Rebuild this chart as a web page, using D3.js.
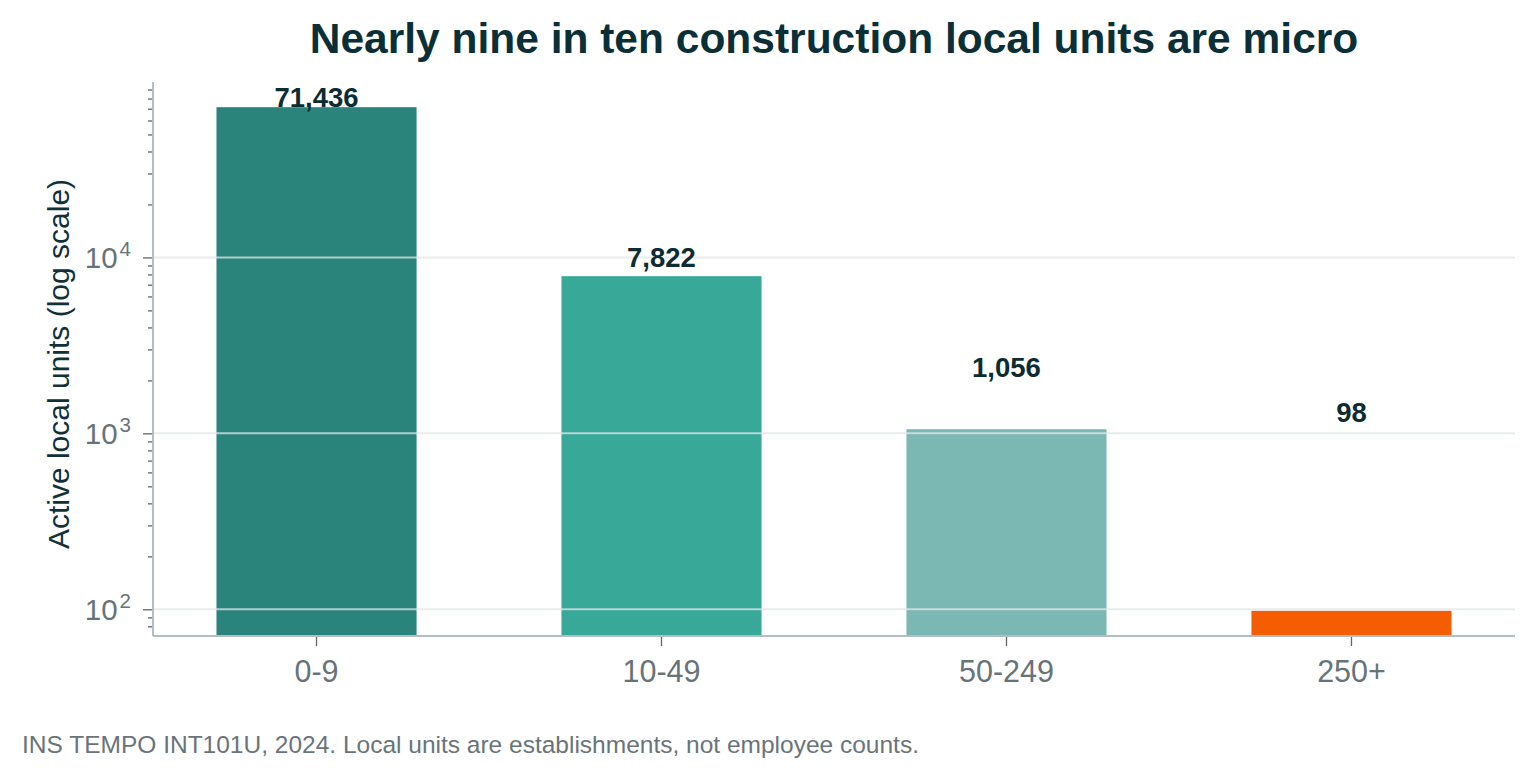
<!DOCTYPE html>
<html><head><meta charset="utf-8">
<script src="https://cdn.jsdelivr.net/npm/d3@7"></script>
<style>
html,body{margin:0;padding:0;background:#fff;}
svg{display:block;font-family:"Liberation Sans",Arial,sans-serif;}
</style></head>
<body>
<svg id="chart" width="1535" height="780"></svg>
<script>
const categories = ["0-9", "10-49", "50-249", "250+"];
const values = [71436, 7822, 1056, 98];
const barColors = ["#2a847b", "#38a899", "#7bb8b3", "#f45d01"];
const majorTicks = [100, 1000, 10000];
const titleText = "Nearly nine in ten construction local units are micro";
const yLabelText = "Active local units (log scale)";
const footerText = "INS TEMPO INT101U, 2024. Local units are establishments, not employee counts.";

const svg = d3.select("#chart");
const L = 153, R = 1515, T = 82, B = 636;

// log domain with 5% margins in log space (like matplotlib autoscale)
const lmin = Math.log10(d3.min(values)), lmax = Math.log10(d3.max(values));
const pad = (lmax - lmin) * 0.05;
const y = d3.scaleLog().domain([10 ** (lmin - pad), 10 ** (lmax + pad)]).range([B, T]);
const x = d3.scaleBand().domain(categories).range([L, R]).paddingInner(0.42).paddingOuter(0.184);

// bars
svg.append("g").selectAll("rect").data(values).join("rect")
  .attr("x", (d, i) => x(categories[i]))
  .attr("width", x.bandwidth())
  .attr("y", d => y(d))
  .attr("height", d => B - y(d))
  .attr("fill", (d, i) => barColors[i]);

// grid (drawn above bars)
svg.append("g").selectAll("line").data(majorTicks).join("line")
  .attr("x1", L).attr("x2", R)
  .attr("y1", d => y(d)).attr("y2", d => y(d))
  .attr("stroke", "#dfe5e8").attr("stroke-opacity", 0.75).attr("stroke-width", 2);

// y axis
const yAxis = d3.axisLeft(y).tickValues(y.ticks()).tickSize(5).tickFormat("");
const gy = svg.append("g").attr("transform", `translate(${L},0)`).call(yAxis);
gy.select(".domain").remove();
gy.selectAll(".tick line").attr("stroke", "#5f676c").attr("stroke-width", 1.3)
  .attr("x2", d => majorTicks.includes(d) ? -10 : -5);
svg.append("line").attr("x1", L).attr("x2", L).attr("y1", T).attr("y2", B)
  .attr("stroke", "#b3bec4").attr("stroke-width", 2);

// y major tick labels 10^k
const yl = svg.append("g").selectAll("text").data(majorTicks).join("text")
  .attr("x", 131).attr("y", d => y(d) + 11)
  .attr("text-anchor", "end").attr("fill", "#687378").attr("font-size", 29.5);
yl.append("tspan").text("10");
yl.append("tspan").attr("dx", 2).attr("dy", -12).attr("font-size", 20.5).text(d => Math.round(Math.log10(d)));

// x axis
const xAxis = d3.axisBottom(x).tickSize(10).tickPadding(8);
const gx = svg.append("g").attr("transform", `translate(0,${B})`).call(xAxis);
gx.select(".domain").remove();
gx.selectAll(".tick line").attr("stroke", "#5f676c").attr("stroke-width", 1.3);
gx.selectAll(".tick text").attr("font-size", 30.5).attr("fill", "#687378")
  .attr("font-family", "Liberation Sans, Arial, sans-serif")
  .attr("y", 46).attr("dy", 0);
svg.append("line").attr("x1", L).attr("x2", R).attr("y1", B).attr("y2", B)
  .attr("stroke", "#b3bec4").attr("stroke-width", 2);

// value labels
const off = d3.max(values) * 0.015;
svg.append("g").selectAll("text").data(values).join("text")
  .attr("x", (d, i) => x(categories[i]) + x.bandwidth() / 2)
  .attr("y", d => y(d + off) + 1)
  .attr("text-anchor", "middle").attr("font-weight", "bold").attr("font-size", 27.5)
  .attr("fill", "#0d2c32")
  .text(d => d3.format(",")(d));

// title
svg.append("text").attr("x", (L + R) / 2).attr("y", 53)
  .attr("text-anchor", "middle").attr("font-weight", "bold").attr("font-size", 42.5)
  .attr("fill", "#0b2f36").text(titleText);

// y label
svg.append("text").attr("transform", `translate(69,${(T + B) / 2 + 5}) rotate(-90)`)
  .attr("text-anchor", "middle").attr("font-size", 30).attr("fill", "#11313a")
  .text(yLabelText);

// footer
svg.append("text").attr("x", 22).attr("y", 753)
  .attr("font-size", 24.5).attr("fill", "#69747a").text(footerText);
</script>
</body></html>
